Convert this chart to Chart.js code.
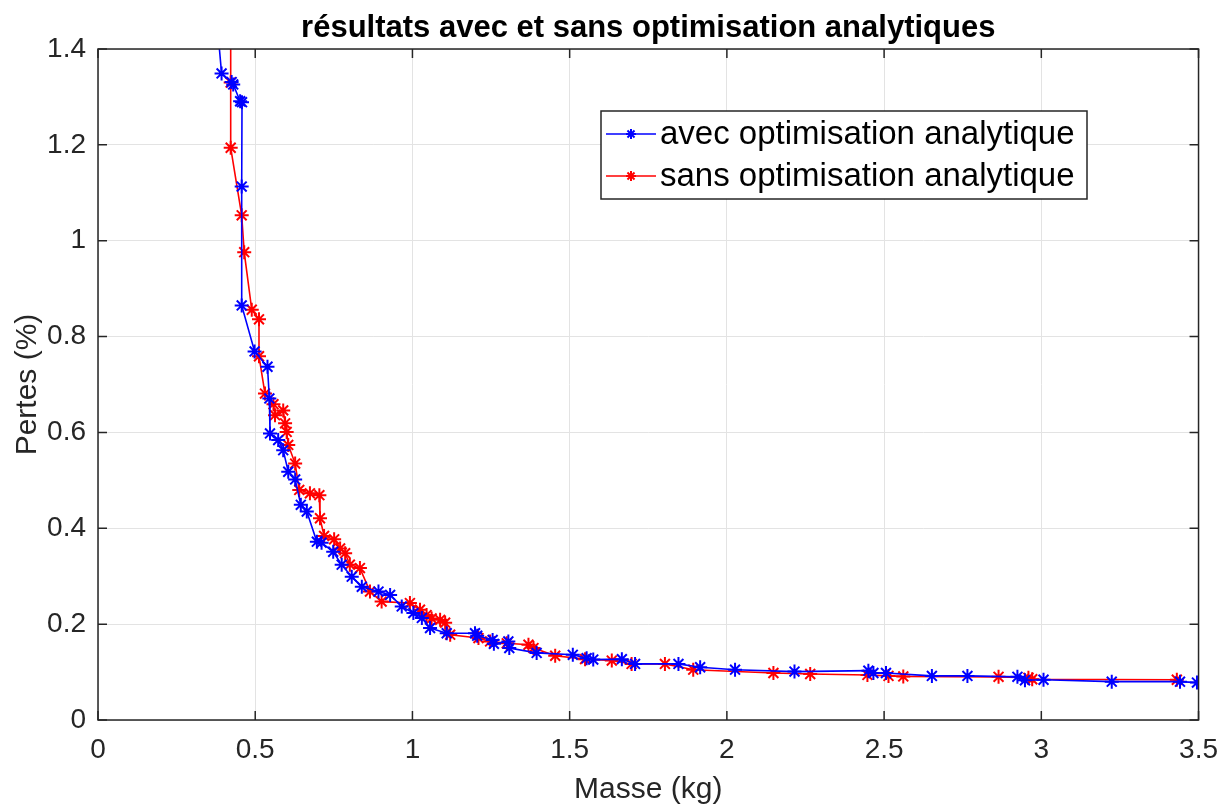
<!DOCTYPE html>
<html>
<head>
<meta charset="utf-8">
<script src="https://cdn.jsdelivr.net/npm/chart.js@4.4.1/dist/chart.umd.min.js"></script>
<style>
  html, body { margin: 0; padding: 0; background: #ffffff; }
  #wrap { width: 1231px; height: 805px; }
</style>
</head>
<body>
<div id="wrap"><canvas id="chart" width="1231" height="805"></canvas></div>
<script>
// --- données ---
const titre = "résultats avec et sans optimisation analytiques";
const labelAvec = "avec optimisation analytique";
const labelSans = "sans optimisation analytique";
const xTitle = "Masse (kg)";
const yTitle = "Pertes (%)";

const xTicks = [0, 0.5, 1, 1.5, 2, 2.5, 3, 3.5];
const xTickLabels = ["0", "0.5", "1", "1.5", "2", "2.5", "3", "3.5"];
const yTicks = [0, 0.2, 0.4, 0.6, 0.8, 1, 1.2, 1.4];
const yTickLabels = ["0", "0.2", "0.4", "0.6", "0.8", "1", "1.2", "1.4"];

// avec optimisation analytique (bleu)
const masseAvec = [0.37, 0.393, 0.425, 0.430, 0.452, 0.458, 0.457, 0.457, 0.498, 0.539,
  0.545, 0.547, 0.573, 0.589, 0.605, 0.627, 0.645, 0.664, 0.696, 0.711,
  0.748, 0.775, 0.807, 0.839, 0.892, 0.929, 0.966, 1.003, 1.030, 1.056,
  1.109, 1.199, 1.206, 1.255, 1.259, 1.305, 1.308, 1.395, 1.510, 1.554,
  1.575, 1.666, 1.708, 1.846, 1.915, 2.026, 2.215, 2.450, 2.466, 2.506,
  2.652, 2.765, 2.924, 2.948, 3.007, 3.224, 3.441, 3.495];
const pertesAvec = [1.52, 1.349, 1.331, 1.326, 1.291, 1.289, 1.113, 0.865, 0.769, 0.737,
  0.671, 0.598, 0.584, 0.563, 0.518, 0.502, 0.449, 0.435, 0.372, 0.370,
  0.351, 0.324, 0.299, 0.278, 0.268, 0.261, 0.237, 0.223, 0.213, 0.192,
  0.181, 0.181, 0.176, 0.167, 0.159, 0.164, 0.150, 0.140, 0.136, 0.129,
  0.126, 0.127, 0.117, 0.117, 0.110, 0.105, 0.101, 0.103, 0.098, 0.098,
  0.092, 0.092, 0.090, 0.083, 0.084, 0.080, 0.080, 0.078];

// sans optimisation analytique (rouge)
const masseSans = [0.422, 0.422, 0.422, 0.457, 0.465, 0.489, 0.512, 0.512, 0.531, 0.558,
  0.563, 0.589, 0.595, 0.600, 0.605, 0.627, 0.640, 0.674, 0.704, 0.706,
  0.719, 0.751, 0.770, 0.786, 0.801, 0.833, 0.865, 0.902, 0.992, 1.024,
  1.045, 1.061, 1.088, 1.104, 1.120, 1.210, 1.247, 1.300, 1.369, 1.385,
  1.454, 1.549, 1.634, 1.697, 1.803, 1.893, 2.148, 2.265, 2.447, 2.514,
  2.561, 2.864, 2.959, 2.971, 3.431];
const pertesSans = [1.55, 1.330, 1.194, 1.053, 0.976, 0.856, 0.836, 0.759, 0.681, 0.659,
  0.636, 0.646, 0.619, 0.601, 0.574, 0.535, 0.480, 0.473, 0.469, 0.421,
  0.384, 0.377, 0.358, 0.348, 0.324, 0.317, 0.268, 0.247, 0.244, 0.230,
  0.219, 0.212, 0.209, 0.203, 0.178, 0.171, 0.164, 0.160, 0.157, 0.150,
  0.134, 0.127, 0.124, 0.117, 0.117, 0.105, 0.098, 0.096, 0.094, 0.092,
  0.091, 0.090, 0.088, 0.085, 0.084];

const BLEU = "#0000ff";
const ROUGE = "#ff0000";
const AXE = "#262626";
const FONT = "'Liberation Sans', Arial, sans-serif";

const toPoints = (xs, ys) => xs.map((x, i) => ({ x: x, y: ys[i] }));

// titre centré sur la zone du graphe (comme MATLAB)
const titleCenterPlugin = {
  id: "titleCenterPlugin",
  afterLayout(chart) {
    const tb = chart.titleBlock;
    if (!tb) return;
    tb.left = chart.chartArea.left;
    tb.right = chart.chartArea.right;
    tb.width = tb.right - tb.left;
  }
};

// cadre + graduations vers l'intérieur (style MATLAB)
const boxPlugin = {
  id: "boxPlugin",
  afterDatasetsDraw(chart) {
    const { ctx, chartArea: a, scales } = chart;
    const tl = 9;
    ctx.save();
    ctx.strokeStyle = AXE;
    ctx.lineWidth = 1.5;
    ctx.beginPath();
    xTicks.forEach(v => {
      const px = scales.x.getPixelForValue(v);
      ctx.moveTo(px, a.bottom); ctx.lineTo(px, a.bottom - tl);
      ctx.moveTo(px, a.top); ctx.lineTo(px, a.top + tl);
    });
    yTicks.forEach(v => {
      const py = scales.y.getPixelForValue(v);
      ctx.moveTo(a.left, py); ctx.lineTo(a.left + tl, py);
      ctx.moveTo(a.right, py); ctx.lineTo(a.right - tl, py);
    });
    ctx.stroke();
    ctx.strokeRect(a.left, a.top, a.right - a.left, a.bottom - a.top);
    ctx.restore();
  }
};

// légende dans la zone du graphe, en haut à droite
const legendPlugin = {
  id: "legendPlugin",
  afterDraw(chart) {
    const { ctx } = chart;
    const bx = 601, by = 111, bw = 486, bh = 88;
    ctx.save();
    ctx.fillStyle = "#ffffff";
    ctx.fillRect(bx, by, bw, bh);
    ctx.strokeStyle = AXE;
    ctx.lineWidth = 1.5;
    ctx.strokeRect(bx, by, bw, bh);
    ctx.font = "33px " + FONT;
    ctx.textBaseline = "middle";
    chart.data.datasets.forEach((ds, i) => {
      const y = by + 23 + i * 42;
      ctx.strokeStyle = ds.borderColor;
      ctx.lineWidth = 1.5;
      ctx.beginPath();
      ctx.moveTo(bx + 5, y); ctx.lineTo(bx + 55, y);
      ctx.stroke();
      ctx.lineWidth = 2;
      Chart.helpers.drawPoint(ctx, { pointStyle: "star", radius: 5, borderWidth: 2 }, bx + 30, y);
      ctx.fillStyle = "#000000";
      ctx.fillText(ds.label, bx + 59, y + 1);
    });
    ctx.restore();
  }
};

new Chart(document.getElementById("chart"), {
  type: "scatter",
  data: {
    datasets: [
      {
        label: labelAvec,
        data: toPoints(masseAvec, pertesAvec),
        showLine: true,
        borderColor: BLEU,
        backgroundColor: BLEU,
        borderWidth: 1.6,
        pointStyle: "star",
        pointRadius: 7,
        pointBorderWidth: 2,
        pointBorderColor: BLEU,
        clip: 0,
      },
      {
        label: labelSans,
        data: toPoints(masseSans, pertesSans),
        showLine: true,
        borderColor: ROUGE,
        backgroundColor: ROUGE,
        borderWidth: 1.6,
        pointStyle: "star",
        pointRadius: 7,
        pointBorderWidth: 2,
        pointBorderColor: ROUGE,
        clip: 0,
      },
    ],
  },
  options: {
    responsive: false,
    animation: false,
    layout: { padding: { left: 0, right: 32, top: 0, bottom: 0 } },
    plugins: {
      legend: { display: false },
      tooltip: { enabled: false },
      title: {
        display: true,
        text: titre,
        color: "#000000",
        font: { family: FONT, size: 31, weight: "bold" },
        padding: { top: 10, bottom: 1.8 },
      },
    },
    scales: {
      x: {
        type: "linear",
        min: 0,
        max: 3.5,
        afterFit: (s) => { s.height = 85; },
        afterBuildTicks: (s) => { s.ticks = xTicks.map(v => ({ value: v })); },
        grid: { color: "#e3e3e3", lineWidth: 1, drawTicks: false, tickLength: 0 },
        border: { display: false },
        ticks: {
          color: AXE, padding: 13, maxRotation: 0, font: { family: FONT, size: 28 },
          callback: (v, i) => xTickLabels[i],
        },
        title: { display: true, text: xTitle, color: AXE, font: { family: FONT, size: 30, lineHeight: 1.0 }, padding: { top: 0, bottom: 0 } },
      },
      y: {
        type: "linear",
        min: 0,
        max: 1.4,
        afterFit: (s) => { s.width = 98; },
        afterBuildTicks: (s) => { s.ticks = yTicks.map(v => ({ value: v })); },
        grid: { color: "#e3e3e3", lineWidth: 1, drawTicks: false, tickLength: 0 },
        border: { display: false },
        ticks: {
          color: AXE, padding: 12, font: { family: FONT, size: 28 },
          callback: (v, i) => yTickLabels[i],
        },
        title: { display: true, text: yTitle, color: AXE, font: { family: FONT, size: 30 }, padding: { top: 10, bottom: 0 } },
      },
    },
  },
  plugins: [titleCenterPlugin, boxPlugin, legendPlugin],
});
</script>
</body>
</html>
